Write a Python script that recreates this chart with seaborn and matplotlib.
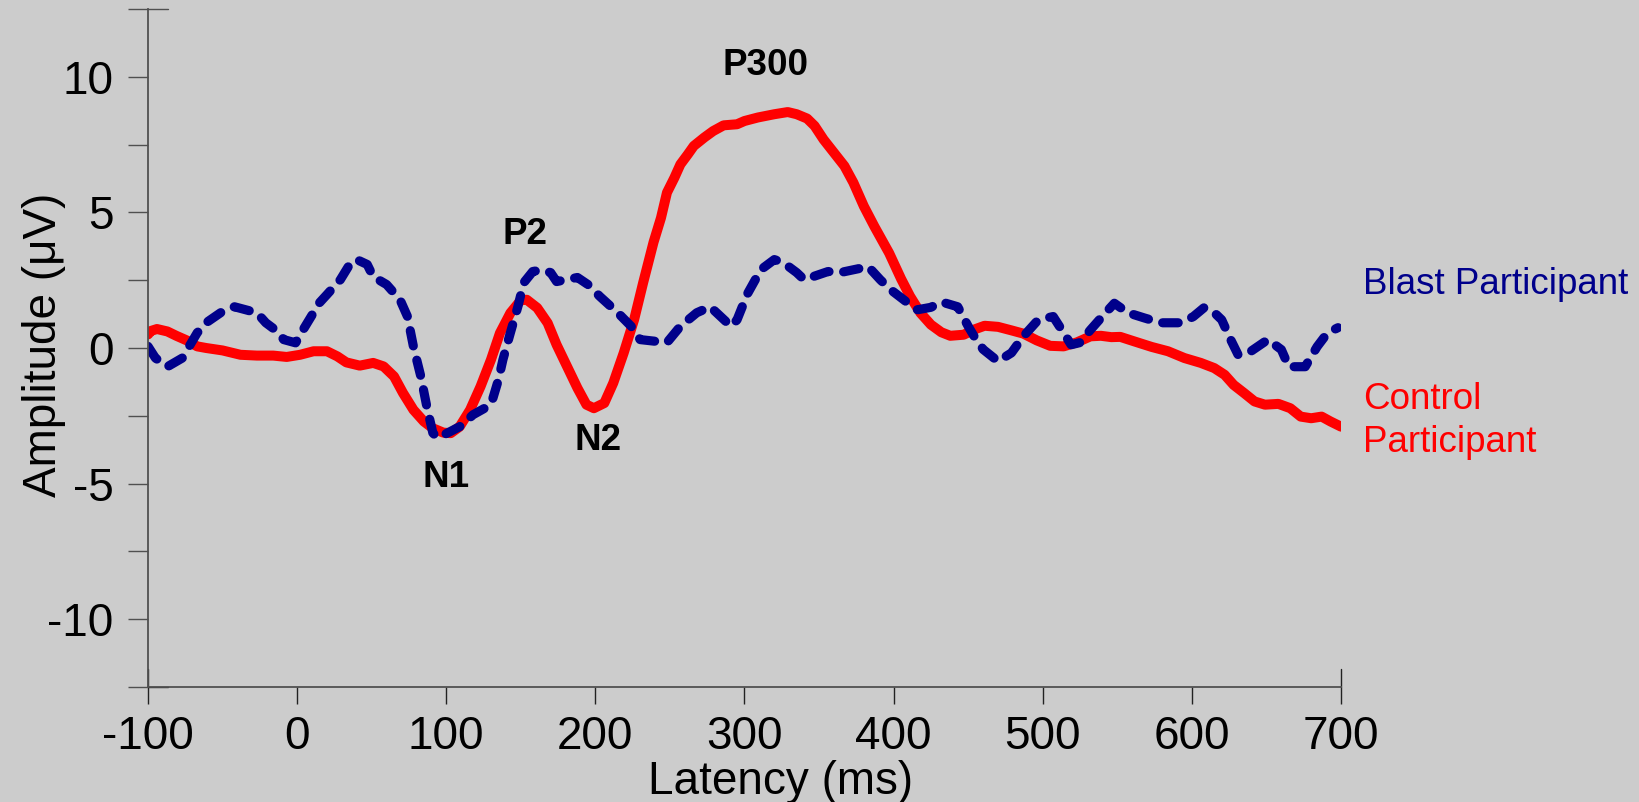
import matplotlib
matplotlib.use("Agg")
import matplotlib.pyplot as plt
import numpy as np
import pandas as pd
import seaborn as sns

# ---------------- data ----------------
control_ms = [-100, -98, -94, -87, -81, -74, -67, -61, -50, -38, -27, -16, -7, 2, 11, 20, 27, 33,
              42, 51, 58, 65, 71, 78, 85, 91, 98, 103, 109, 116, 123, 130, 136, 143, 150, 154,
              161, 168, 174, 181, 188, 194, 199, 206, 212, 219, 226, 232, 239, 244, 248, 253,
              257, 262, 266, 273, 279, 286, 295, 300, 309, 320, 329, 335, 342, 347, 353, 360,
              367, 373, 380, 387, 397, 405, 411, 418, 425, 432, 438, 447, 454, 461, 470, 479,
              487, 496, 505, 514, 523, 532, 539, 546, 552, 561, 573, 584, 595, 606, 615, 622,
              628, 635, 642, 649, 658, 666, 673, 680, 687, 693, 700]
control_uv = [0.5, 0.63, 0.70, 0.61, 0.45, 0.28, 0.06, 0.0, -0.09, -0.25, -0.28, -0.28, -0.33,
              -0.25, -0.12, -0.12, -0.31, -0.53, -0.65, -0.55, -0.68, -1.05, -1.66, -2.28, -2.71,
              -2.96, -3.12, -3.14, -2.9, -2.28, -1.42, -0.43, 0.55, 1.29, 1.76, 1.78, 1.48, 0.92,
              0.12, -0.68, -1.48, -2.09, -2.22, -2.03, -1.29, -0.18, 1.05, 2.4, 3.9, 4.8, 5.73,
              6.28, 6.77, 7.14, 7.45, 7.76, 8.0, 8.21, 8.25, 8.37, 8.5, 8.62, 8.7, 8.62, 8.46,
              8.19, 7.69, 7.2, 6.71, 6.1, 5.23, 4.49, 3.5, 2.55, 1.91, 1.29, 0.86, 0.58, 0.45,
              0.49, 0.68, 0.82, 0.78, 0.65, 0.53, 0.28, 0.08, 0.06, 0.21, 0.43, 0.45, 0.4, 0.41,
              0.25, 0.04, -0.12, -0.37, -0.55, -0.74, -0.99, -1.36, -1.66, -1.97, -2.09, -2.06,
              -2.22, -2.53, -2.59, -2.53, -2.71, -2.9]

blast_ms = [-100, -95, -87, -77, -67, -60, -50, -42, -27, -21, -13, -9, -1, 4, 15, 20, 29, 36, 40,
            47, 51, 60, 69, 74, 78, 83, 87, 91, 94, 101, 109, 118, 130, 135, 138, 143, 148, 152,
            158, 164, 170, 174, 188, 195, 203, 215, 224, 230, 248, 257, 268, 277, 284, 291, 295,
            302, 311, 320, 326, 335, 340, 356, 364, 383, 391, 398, 411, 416, 425, 432, 443, 450,
            454, 460, 470, 479, 487, 497, 507, 514, 519, 525, 532, 541, 548, 557, 568, 579, 593,
            601, 608, 613, 620, 626, 631, 638, 651, 660, 665, 676, 684, 691, 698]
blast_uv = [0.06, -0.37, -0.69, -0.37, 0.56, 0.97, 1.35, 1.52, 1.3, 0.93, 0.6, 0.31, 0.19, 0.67,
            1.67, 1.97, 2.52, 3.15, 3.26, 3.08, 2.63, 2.34, 1.78, 1.16, 0.05, -1.06, -2.17, -3.13,
            -3.31, -3.13, -2.9, -2.46, -2.09, -1.17, -0.43, 0.56, 1.52, 2.41, 2.82, 2.88, 2.78,
            2.45, 2.6, 2.34, 1.9, 1.3, 0.8, 0.31, 0.2, 0.8, 1.3, 1.52, 1.16, 0.8, 1.04, 2.0, 2.89,
            3.26, 3.15, 2.78, 2.52, 2.82, 2.78, 3.0, 2.52, 2.15, 1.6, 1.41, 1.5, 1.7, 1.52, 0.8,
            0.43, -0.05, -0.49, -0.18, 0.43, 1.04, 1.16, 0.56, 0.12, 0.2, 0.67, 1.23, 1.65, 1.3,
            1.11, 0.93, 0.93, 1.16, 1.48, 1.41, 1.04, 0.31, -0.25, -0.18, 0.31, -0.06, -0.69,
            -0.69, 0.05, 0.56, 0.75]

x_ticks = [-100, 0, 100, 200, 300, 400, 500, 600, 700]
x_tick_labels = ["-100", "0", "100", "200", "300", "400", "500", "600", "700"]
y_ticks = [-12.5, -10, -7.5, -5, -2.5, 0, 2.5, 5, 7.5, 10, 12.5]
y_tick_labels = ["", "-10", "", "-5", "", "0", "", "5", "", "10", ""]

components = ["P300", "P2", "N1", "N2"]
component_ms = [314, 153, 100, 202]
component_uv = [10.05, 3.82, -5.11, -3.76]

series_names = ["Control Participant", "Blast Participant"]
series_label_text = ["Control\nParticipant", "Blast Participant"]

# ---------------- style ----------------
BG = "#cccccc"
RED = "#ff0000"
BLUE = "#00008b"
AXC = "#505050"

sns.set_theme(style="ticks", rc={"axes.facecolor": BG, "figure.facecolor": BG,
                                 "axes.edgecolor": AXC})
plt.rcParams["font.family"] = ["Liberation Sans", "DejaVu Sans"]

W, H = 1640, 802
fig = plt.figure(figsize=(W / 100, H / 100), dpi=100, facecolor=BG)
ax = fig.add_axes([148 / W, 115 / H, 1193 / W, 678 / H])
ax.set_facecolor(BG)

df = pd.concat([
    pd.DataFrame({"Latency": control_ms, "Amplitude": control_uv, "Group": series_names[0]}),
    pd.DataFrame({"Latency": blast_ms, "Amplitude": blast_uv, "Group": series_names[1]}),
], ignore_index=True)

sns.lineplot(data=df, x="Latency", y="Amplitude", hue="Group", style="Group", size="Group",
             palette={series_names[0]: RED, series_names[1]: BLUE},
             dashes={series_names[0]: "", series_names[1]: (1.7, 1.6)},
             sizes={series_names[0]: 7.2, series_names[1]: 6.6},
             estimator=None, sort=False, legend=False, ax=ax)
for ln in ax.get_lines():
    ln.set_solid_capstyle("round")
    ln.set_dash_capstyle("round")
    ln.set_solid_joinstyle("round")
    ln.set_dash_joinstyle("round")

ax.set_xlim(-100, 700)
ax.set_ylim(-12.5, 12.5)
sns.despine(ax=ax)
for s in ["left", "bottom"]:
    ax.spines[s].set_color(AXC)
    ax.spines[s].set_linewidth(1.3)

ax.set_xticks(x_ticks)
ax.set_xticklabels(x_tick_labels)
ax.set_yticks(y_ticks)
ax.set_yticklabels(y_tick_labels)
ax.tick_params(axis="x", direction="out", length=12, width=1.0, color="#222222",
               labelsize=33, pad=8.5, labelcolor="black")
ax.tick_params(axis="y", direction="out", length=14.4, width=1.0, color=AXC,
               labelsize=33, pad=10.5, labelcolor="black")

# end ticks cross the axis lines
ax.axhline(12.5, xmin=0, xmax=20 / 1193, color=AXC, lw=1.0, clip_on=False)
ax.axhline(-12.5, xmin=0, xmax=20 / 1193, color="#222222", lw=1.0, clip_on=False)
ax.axvline(700, ymin=0, ymax=18 / 678, color="#222222", lw=1.0, clip_on=False)
ax.axvline(-100, ymin=0, ymax=18 / 678, color="#222222", lw=1.0, clip_on=False)

ax.set_xlabel("Latency (ms)", fontsize=33, color="black")
ax.set_ylabel("Amplitude (\u03bcV)", fontsize=33, color="black")
ax.xaxis.label.set(va="center", ha="center")
ax.yaxis.label.set(va="center", ha="center", rotation_mode="anchor")
ax.xaxis.set_label_coords((781 - 148) / 1193, (687 - 782) / 678)
ax.yaxis.set_label_coords((44 - 148) / 1193, (687 - 345) / 678)

for name, xm, yv in zip(components, component_ms, component_uv):
    ax.text(xm, yv, name, fontsize=26.5, fontweight="bold", ha="center", va="baseline",
            color="black")

ax.text(715, 2.0, series_label_text[1], fontsize=26.5, color=BLUE, ha="left",
        va="baseline", clip_on=False)
ax.text(715, -3.82, series_label_text[0], fontsize=26.5, color=RED, ha="left",
        va="baseline", linespacing=1.28, clip_on=False)

fig.savefig("out.png", dpi=100, facecolor=BG)
